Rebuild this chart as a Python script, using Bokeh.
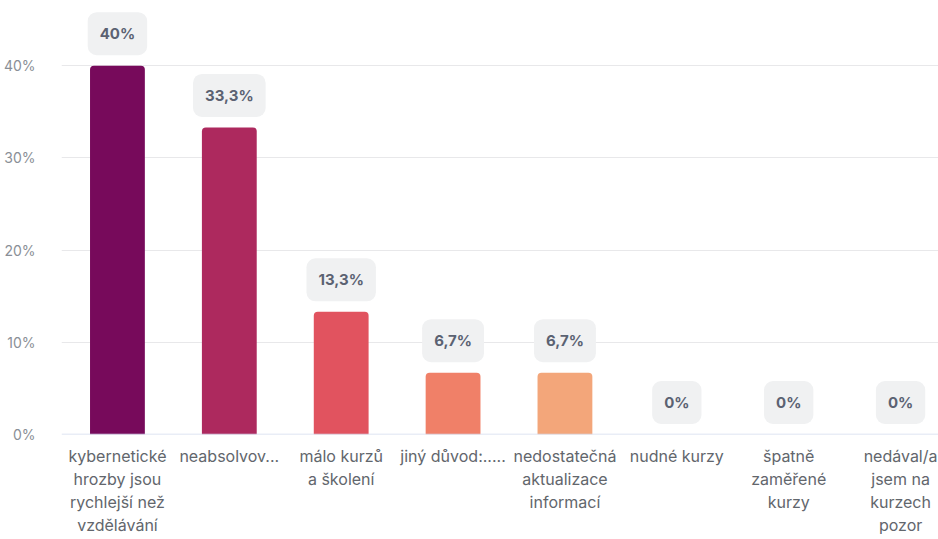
from bokeh.plotting import figure
from bokeh.models import ColumnDataSource, Range1d, FixedTicker, Span
from bokeh.core.properties import value
from bokeh.embed import file_html
from bokeh.resources import INLINE

categories = [
    "kybernetické\nhrozby jsou\nrychlejší než\nvzdělávání",
    "neabsolvov...",
    "málo kurzů\na školení",
    "jiný důvod:.....",
    "nedostatečná\naktualizace\ninformací",
    "nudné kurzy",
    "špatně\nzaměřené\nkurzy",
    "nedával/a\njsem na\nkurzech\npozor",
]
values = [40, 33.3, 13.3, 6.7, 6.7, 0, 0, 0]
value_labels = ["40%", "33,3%", "13,3%", "6,7%", "6,7%", "0%", "0%", "0%"]
colors = ["#770A5B", "#AD295E", "#E1535F", "#F08068", "#F3A67A", "#F3A67A", "#F3A67A", "#F3A67A"]
y_ticks = [0, 10, 20, 30, 40]
y_tick_labels = ["0%", "10%", "20%", "30%", "40%"]

xs = list(range(len(categories)))
src = ColumnDataSource(dict(x=xs, top=values, color=colors, label=value_labels))

p = figure(width=938, height=539, output_backend="svg", toolbar_location=None,
           x_range=Range1d(-0.5, 7.339), y_range=Range1d(0, 47.07),
           min_border_left=60, min_border_right=0, min_border_top=0, min_border_bottom=105)
p.outline_line_color = None
p.background_fill_color = "white"
p.border_fill_color = "white"

p.vbar(x="x", top="top", width=0.49, bottom=0, fill_color="color", line_color=None,
       source=src, border_radius=(4, 4, 0, 0))

p.text(x="x", y="top", text="label", source=src, y_offset=-32,
       text_align="center", text_baseline="middle",
       text_font=value("Inter"), text_font_size="15px", text_font_style="bold",
       text_color="#5B6272", background_fill_color="#F0F1F2",
       padding=12, border_radius=9)

p.add_layout(Span(location=0, dimension="width", line_color="#D3DBEE", line_width=1.5))

p.xgrid.grid_line_color = None
p.ygrid.grid_line_color = "#E8E8EA"
p.ygrid.ticker = FixedTicker(ticks=y_ticks)

p.yaxis.ticker = FixedTicker(ticks=y_ticks)
p.yaxis.major_label_overrides = {t: l for t, l in zip(y_ticks, y_tick_labels)}
p.yaxis.axis_line_color = None
p.yaxis.major_tick_line_color = None
p.yaxis.minor_tick_line_color = None
p.yaxis.major_label_text_font = "Inter"
p.yaxis.major_label_text_font_size = "14px"
p.yaxis.major_label_text_color = "#8A8F96"
p.yaxis.major_label_standoff = 20

p.xaxis.ticker = FixedTicker(ticks=xs)
p.xaxis.major_label_overrides = {i: c for i, c in zip(xs, categories)}
p.xaxis.axis_line_color = None
p.xaxis.major_tick_line_color = None
p.xaxis.minor_tick_line_color = None
p.xaxis.major_label_text_font = "Inter"
p.xaxis.major_label_text_font_size = "16px"
p.xaxis.major_label_text_color = "#62666C"
p.xaxis.major_label_standoff = 5
p.xaxis.major_label_text_line_height = 1.15

open("out.html", "w").write(file_html(p, INLINE))
